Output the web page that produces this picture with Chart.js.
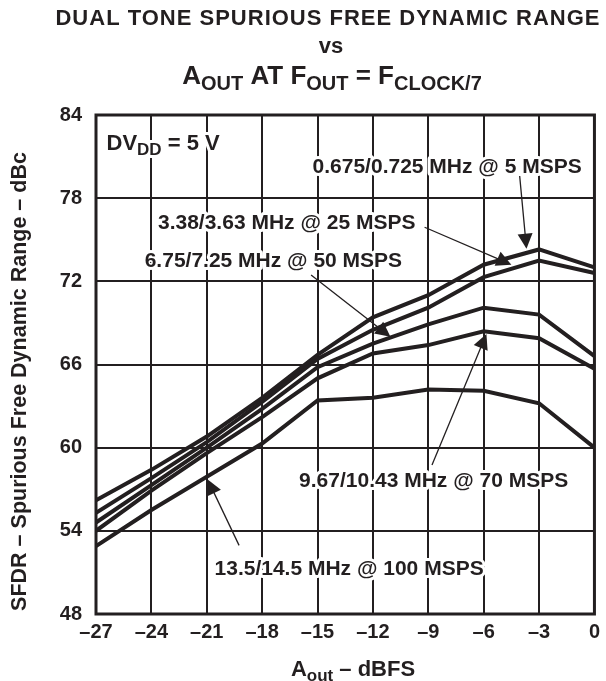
<!DOCTYPE html>
<html>
<head>
<meta charset="utf-8">
<script src="https://cdn.jsdelivr.net/npm/chart.js@4.4.1/dist/chart.umd.min.js"></script>
<style>
  html, body { margin: 0; padding: 0; background: #fff; }
  #wrap { width: 606px; height: 681px; }
</style>
</head>
<body>
<div id="wrap"><canvas id="sfdrChart" width="606" height="681"></canvas></div>
<script>
"use strict";

// Output amplitude (dBFS) - x axis
const aOut = [-27, -24, -21, -18, -15, -12, -9, -6, -3, 0];

// SFDR (dBc), one array per clock rate
const sfdr5Msps   = [56.2, 58.4, 60.8, 63.6, 66.7, 69.4, 71.0, 73.2, 74.3, 73.0];
const sfdr25Msps  = [55.3, 57.8, 60.4, 63.3, 66.4, 68.5, 70.1, 72.3, 73.5, 72.6];
const sfdr50Msps  = [54.6, 57.3, 60.0, 62.8, 65.8, 67.5, 68.9, 70.1, 69.6, 66.6];
const sfdr70Msps  = [54.0, 56.9, 59.6, 62.2, 65.0, 66.8, 67.4, 68.4, 67.9, 65.7];
const sfdr100Msps = [52.9, 55.5, 57.9, 60.3, 63.4, 63.6, 64.2, 64.1, 63.2, 60.0];

const seriesNames = [
    "0.675/0.725 MHz @ 5 MSPS",
    "3.38/3.63 MHz @ 25 MSPS",
    "6.75/7.25 MHz @ 50 MSPS",
    "9.67/10.43 MHz @ 70 MSPS",
    "13.5/14.5 MHz @ 100 MSPS"
];
const seriesValues = [sfdr5Msps, sfdr25Msps, sfdr50Msps, sfdr70Msps, sfdr100Msps];

const INK = "#231f20";
const FONT = "'Liberation Sans', Arial, Helvetica, sans-serif";

// Callout labels, placed in data units (x = dBFS, y = dBc)
// text at (tx, ty) = centre/baseline, arrow from (ax, ay) to tip (bx, by)
const callouts = [
    { label: seriesNames[0], tx: -7.98, ty: 79.79, ax: -4.05, ay: 79.6, bx: -3.68, by: 74.35 },
    { label: seriesNames[1], tx: -16.67, ty: 75.75, ax: -9.2, ay: 75.9, bx: -4.5, by: 73.2 },
    { label: seriesNames[2], tx: -17.39, ty: 73.01, ax: -15.35, ay: 72.45, bx: -11.05, by: 68.0 },
    { label: seriesNames[3], tx: -8.71, ty: 57.14, ax: -8.8, ay: 58.75, bx: -5.85, by: 68.2 },
    { label: seriesNames[4], tx: -13.29, ty: 50.79, ax: -19.25, ay: 52.95, bx: -20.95, by: 57.7 }
];

// Draws text made of normal and subscript parts
function drawRich(ctx, parts, x, y, mainPx, subPx, drop, align, halo) {
    const mainFont = "bold " + mainPx + "px " + FONT;
    const subFont = "bold " + subPx + "px " + FONT;
    let total = 0;
    parts.forEach(p => {
        ctx.font = p.sub ? subFont : mainFont;
        p.w = ctx.measureText(p.t).width;
        total += p.w;
    });
    let cx = align === "left" ? x : x - total / 2;
    ctx.textAlign = "left";
    ctx.textBaseline = "alphabetic";
    parts.forEach(p => {
        ctx.font = p.sub ? subFont : mainFont;
        const py = p.sub ? y + drop : y;
        if (halo) {
            ctx.strokeStyle = "#fff";
            ctx.lineWidth = 6;
            ctx.lineJoin = "round";
            ctx.strokeText(p.t, cx, py);
        }
        ctx.fillStyle = INK;
        ctx.fillText(p.t, cx, py);
        cx += p.w;
    });
}

function drawArrow(ctx, x1, y1, x2, y2) {
    const ang = Math.atan2(y2 - y1, x2 - x1);
    const len = 15, half = 7.5;
    ctx.strokeStyle = INK;
    ctx.lineWidth = 1.3;
    ctx.beginPath();
    ctx.moveTo(x1, y1);
    ctx.lineTo(x2 - Math.cos(ang) * len * 0.8, y2 - Math.sin(ang) * len * 0.8);
    ctx.stroke();
    ctx.fillStyle = INK;
    ctx.beginPath();
    ctx.moveTo(x2, y2);
    ctx.lineTo(x2 - Math.cos(ang) * len + Math.sin(ang) * half, y2 - Math.sin(ang) * len - Math.cos(ang) * half);
    ctx.lineTo(x2 - Math.cos(ang) * len - Math.sin(ang) * half, y2 - Math.sin(ang) * len + Math.cos(ang) * half);
    ctx.closePath();
    ctx.fill();
}

const decorPlugin = {
    id: "decor",
    afterDatasetsDraw(chart) {
        const ctx = chart.ctx;
        const xs = chart.scales.x, ys = chart.scales.y;
        const area = chart.chartArea;
        ctx.save();

        // plot frame
        ctx.strokeStyle = INK;
        ctx.lineWidth = 3;
        ctx.strokeRect(area.left, area.top, area.right - area.left, area.bottom - area.top);

        // supply note
        drawRich(ctx, [{ t: "DV" }, { t: "DD", sub: true }, { t: " = 5 V" }],
            xs.getPixelForValue(-26.43), ys.getPixelForValue(81.47), 22, 17, 5, "left", true);

        // callouts
        callouts.forEach(c => {
            drawRich(ctx, [{ t: c.label }], xs.getPixelForValue(c.tx), ys.getPixelForValue(c.ty), 21, 16, 0, "center", true);
            drawArrow(ctx, xs.getPixelForValue(c.ax), ys.getPixelForValue(c.ay),
                xs.getPixelForValue(c.bx), ys.getPixelForValue(c.by));
        });

        // chart title
        ctx.letterSpacing = "1px";
        drawRich(ctx, [{ t: "DUAL TONE SPURIOUS FREE DYNAMIC RANGE" }], 328, 24.5, 22, 16, 0, "center", false);
        ctx.letterSpacing = "0px";
        drawRich(ctx, [{ t: "vs" }], 331, 52.5, 22, 16, 0, "center", false);
        drawRich(ctx, [
            { t: "A" }, { t: "OUT", sub: true }, { t: " AT F" }, { t: "OUT", sub: true },
            { t: " = F" }, { t: "CLOCK/7", sub: true }
        ], 332, 84, 26, 20, 6, "center", false);

        // x axis title
        drawRich(ctx, [{ t: "A" }, { t: "out", sub: true }, { t: " \u2013 dBFS" }], 353, 676, 22, 17, 4.5, "center", false);

        // y axis title (rotated)
        ctx.translate(26, 381.5);
        ctx.rotate(-Math.PI / 2);
        drawRich(ctx, [{ t: "SFDR \u2013 Spurious Free Dynamic Range \u2013 dBc" }], 0, 0, 21.5, 16, 0, "center", false);
        ctx.restore();
    }
};

const ctx = document.getElementById("sfdrChart").getContext("2d");
new Chart(ctx, {
    type: "line",
    data: {
        datasets: seriesValues.map((vals, i) => ({
            label: seriesNames[i],
            data: vals.map((v, j) => ({ x: aOut[j], y: v })),
            borderColor: INK,
            borderWidth: 4,
            pointRadius: 0,
            tension: 0,
            borderJoinStyle: "miter",
            fill: false
        }))
    },
    options: {
        responsive: false,
        animation: false,
        devicePixelRatio: 1,
        layout: { padding: { top: 115, right: 9, left: 0, bottom: 0 } },
        plugins: {
            legend: { display: false },
            title: { display: false },
            tooltip: { enabled: false }
        },
        events: [],
        scales: {
            x: {
                type: "linear",
                min: -27,
                max: 0,
                afterFit: s => { s.height = 67; },
                ticks: {
                    stepSize: 3,
                    color: INK,
                    padding: 6,
                    maxRotation: 0,
                    font: { family: FONT, size: 20, weight: "bold" },
                    callback: v => (v < 0 ? "\u2013" + Math.abs(v) : String(v))
                },
                grid: { color: INK, lineWidth: 2, drawTicks: false },
                border: { display: false }
            },
            y: {
                min: 48,
                max: 84,
                afterFit: s => { s.width = 96; },
                ticks: {
                    stepSize: 6,
                    color: INK,
                    padding: 14,
                    font: { family: FONT, size: 20, weight: "bold" }
                },
                grid: { color: INK, lineWidth: 2, drawTicks: false },
                border: { display: false }
            }
        }
    },
    plugins: [decorPlugin]
});
</script>
</body>
</html>
